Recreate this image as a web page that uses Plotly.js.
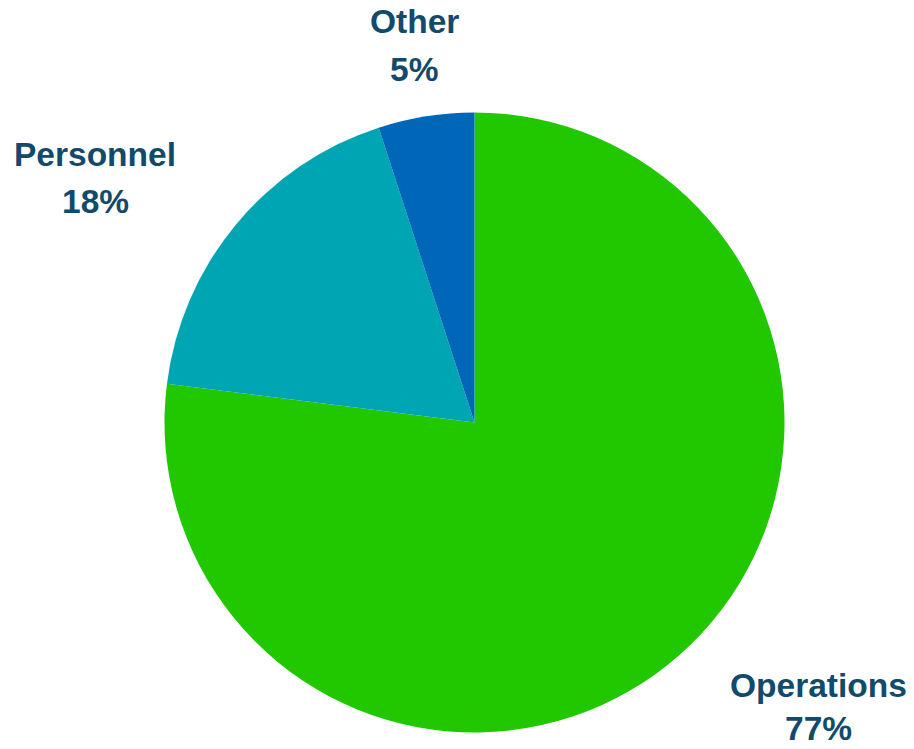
<!DOCTYPE html>
<html>
<head>
<meta charset="utf-8">
<script src="https://cdn.plot.ly/plotly-3.0.1.min.js"></script>
<style>
  html, body { margin: 0; padding: 0; background: #ffffff; }
  #chart { width: 914px; height: 749px; }
</style>
</head>
<body>
<div id="chart"></div>
<script>
// Data
const categories = ["Operations", "Personnel", "Other"];
const shares = [77, 18, 5];
const sliceColors = ["#21c800", "#00a5b4", "#0066b8"];

// Label placement (pixel centers of each two-line label: name line, percent line)
const labelX = [818, 95, 414];
const nameY = [685, 154, 21];
const pctY = [730, 201, 69];

const W = 914, H = 749;
const textColor = "#124a6b";
const fontFamily = "Liberation Sans, Arial, sans-serif";
const fontSize = 33.5;

const total = shares.reduce((a, b) => a + b, 0);
const annotations = [];
categories.forEach((c, i) => {
  const pct = Math.round(shares[i] / total * 100) + "%";
  annotations.push({
    text: "<b>" + c + "</b>", x: labelX[i] / W, y: 1 - nameY[i] / H,
    xref: "paper", yref: "paper", xanchor: "center", yanchor: "middle",
    showarrow: false, borderpad: 0, font: { family: fontFamily, size: fontSize, color: textColor }
  });
  annotations.push({
    text: "<b>" + pct + "</b>", x: labelX[i] / W, y: 1 - Math.min(pctY[i], H - fontSize * 0.62) / H,
    xref: "paper", yref: "paper", xanchor: "center", yanchor: "middle",
    showarrow: false, borderpad: 0, font: { family: fontFamily, size: fontSize, color: textColor }
  });
});

const trace = {
  type: "pie",
  labels: categories,
  values: shares,
  sort: false,
  direction: "clockwise",
  rotation: 0,
  textinfo: "none",
  hoverinfo: "label+percent",
  marker: { colors: sliceColors, line: { color: "#ffffff", width: 0 } },
  domain: { x: [164.5 / W, 784.5 / W], y: [1 - 732.5 / H, 1 - 112.5 / H] }
};

const layout = {
  width: W, height: H,
  margin: { l: 0, r: 0, t: 0, b: 0 },
  paper_bgcolor: "#ffffff",
  showlegend: false,
  annotations: annotations
};

Plotly.newPlot("chart", [trace], layout, { displayModeBar: false, staticPlot: true });
</script>
</body>
</html>
